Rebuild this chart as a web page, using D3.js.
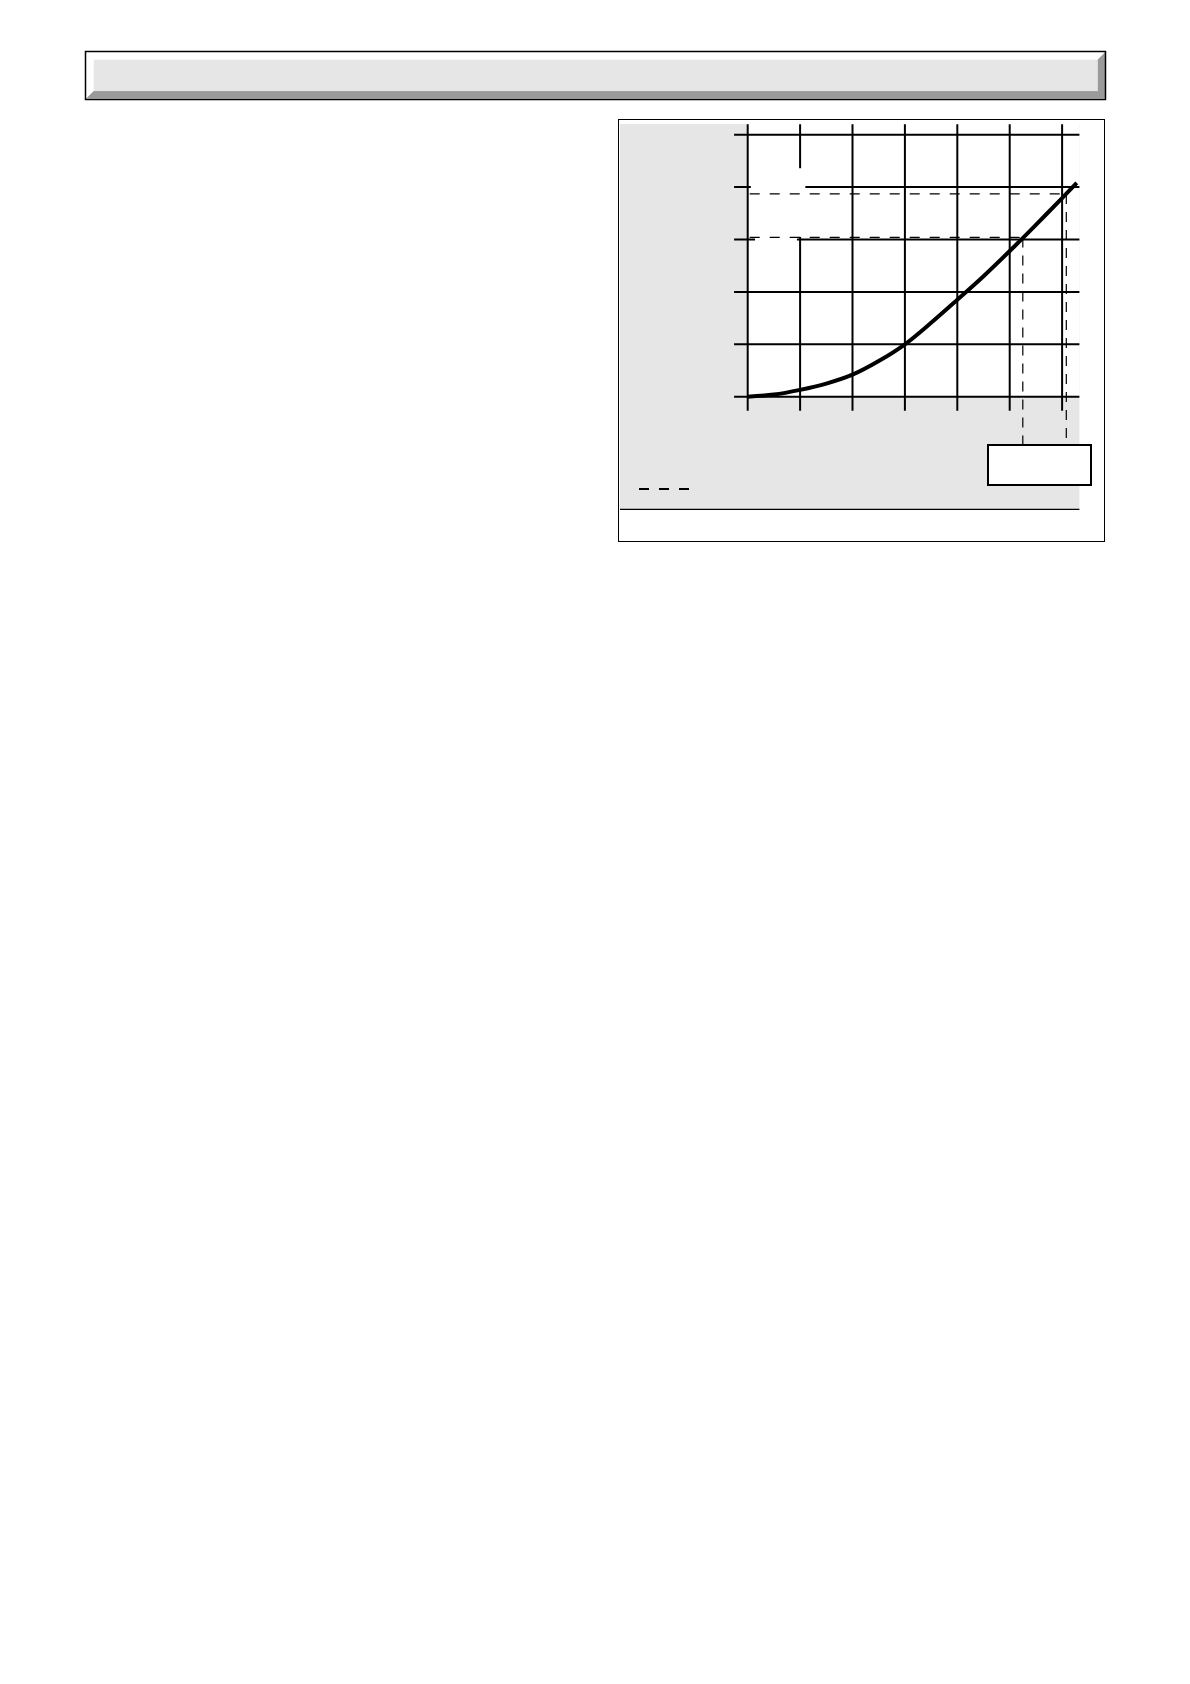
<!DOCTYPE html>
<html>
<head>
<meta charset="utf-8">
<script src="https://cdn.jsdelivr.net/npm/d3@7"></script>
<style>
  body { margin: 0; background: #fff; }
  svg { display: block; }
</style>
</head>
<body>
<div id="page"></div>
<script>
// grid positions in chart units (7 vertical lines, 6 horizontal lines)
const xTicks = [0, 1, 2, 3, 4, 5, 6];
const yTicks = [0, 1, 2, 3, 4, 5];
// curve
const curveX = [0, 0.5, 1, 1.5, 2, 2.5, 3, 3.5, 4, 4.5, 5, 5.5, 6, 6.28];
const curveY = [0, 0.04, 0.13, 0.25, 0.42, 0.68, 1.0, 1.41, 1.85, 2.30, 2.78, 3.28, 3.79, 4.08];
// dashed read-off guides (x value, y value)
const guideX = [5.25, 6.08];
const guideY = [3.04, 3.87];

const W = 1190, H = 1684;
const svg = d3.select('#page').append('svg')
    .attr('width', W)
    .attr('height', H);

// ---- title bar with bevel ----
const tb = { l: 86.2, t: 52.2, r: 1105, b: 98.6, bev: 7.5 };
svg.append('polygon')
    .attr('points', [[tb.l, tb.t], [tb.r, tb.t], [tb.r - tb.bev, tb.t + tb.bev], [tb.l + tb.bev, tb.t + tb.bev], [tb.l + tb.bev, tb.b - tb.bev], [tb.l, tb.b]].join(' '))
    .attr('fill', '#fff');
svg.append('polygon')
    .attr('points', [[tb.r, tb.t], [tb.r, tb.b], [tb.l, tb.b], [tb.l + tb.bev, tb.b - tb.bev], [tb.r - tb.bev, tb.b - tb.bev], [tb.r - tb.bev, tb.t + tb.bev]].join(' '))
    .attr('fill', '#9a9a9a');
svg.append('rect')
    .attr('x', tb.l + tb.bev).attr('y', tb.t + tb.bev)
    .attr('width', tb.r - tb.l - 2 * tb.bev).attr('height', tb.b - tb.t - 2 * tb.bev)
    .attr('fill', '#e6e6e6');
svg.append('rect')
    .attr('x', 85.5).attr('y', 51.5)
    .attr('width', 1020).attr('height', 48)
    .attr('fill', 'none').attr('stroke', '#000').attr('stroke-width', 1.5);

// ---- chart frame ----
svg.append('rect')
    .attr('x', 618.5).attr('y', 119.5)
    .attr('width', 486).attr('height', 422)
    .attr('fill', '#fff').attr('stroke', '#000').attr('stroke-width', 1);

const x = d3.scaleLinear().domain([0, 6.33]).range([747.7, 1079.4]);
const y = d3.scaleLinear().domain([0, 5]).range([396.7, 134.7]);

// grey panel, white plot area
svg.append('rect')
    .attr('x', 620).attr('y', 124)
    .attr('width', x(6.33) - 620).attr('height', 509.3 - 124)
    .attr('fill', '#e6e6e6');
svg.append('rect')
    .attr('x', x(0)).attr('y', 124)
    .attr('width', x(6.33) - x(0)).attr('height', y(0) - 124)
    .attr('fill', '#fff');
svg.append('line')
    .attr('x1', 620).attr('x2', x(6.33))
    .attr('y1', 509.3).attr('y2', 509.3)
    .attr('stroke', '#000').attr('stroke-width', 1.3);

// grid
svg.selectAll('line.vgrid')
    .data(xTicks)
    .enter()
    .append('line')
    .attr('class', 'vgrid')
    .attr('x1', d => x(d)).attr('x2', d => x(d))
    .attr('y1', y(5.2)).attr('y2', y(-0.27))
    .attr('stroke', '#000').attr('stroke-width', 2);
svg.selectAll('line.hgrid')
    .data(yTicks)
    .enter()
    .append('line')
    .attr('class', 'hgrid')
    .attr('x1', x(-0.26)).attr('x2', x(6.33))
    .attr('y1', d => y(d)).attr('y2', d => y(d))
    .attr('stroke', '#000').attr('stroke-width', 2);

// white label backgrounds cutting the grid
const masks = [
    { x0: 0.06, x1: 1.10, y0: 4.36, y1: 3.05 },
    { x0: 0.14, x1: 0.94, y0: 3.03, y1: 2.92 }
];
svg.selectAll('rect.mask')
    .data(masks)
    .enter()
    .append('rect')
    .attr('class', 'mask')
    .attr('x', d => x(d.x0)).attr('y', d => y(d.y0))
    .attr('width', d => x(d.x1) - x(d.x0)).attr('height', d => y(d.y1) - y(d.y0))
    .attr('fill', '#fff');

// dashed guides down to the value box
const boxTop = 444.3;
svg.selectAll('line.hguide')
    .data(guideX)
    .enter()
    .append('line')
    .attr('class', 'hguide')
    .attr('x1', x(0) + 2).attr('x2', d => x(d))
    .attr('y1', (d, i) => y(guideY[i])).attr('y2', (d, i) => y(guideY[i]))
    .attr('stroke', '#000').attr('stroke-width', 1.2)
    .attr('stroke-dasharray', '10,10');
svg.selectAll('line.vguide')
    .data(guideX)
    .enter()
    .append('line')
    .attr('class', 'vguide')
    .attr('x1', d => x(d)).attr('x2', d => x(d))
    .attr('y1', (d, i) => y(guideY[i])).attr('y2', boxTop)
    .attr('stroke', '#000').attr('stroke-width', 1.2)
    .attr('stroke-dasharray', '10,8');

// curve
const pts = curveX.map((v, i) => [v, curveY[i]]);
svg.append('path')
    .datum(pts)
    .attr('d', d3.line().x(d => x(d[0])).y(d => y(d[1])).curve(d3.curveCatmullRom))
    .attr('fill', 'none')
    .attr('stroke', '#000')
    .attr('stroke-width', 4);

// value box
svg.append('rect')
    .attr('x', 988).attr('y', boxTop + 0.7)
    .attr('width', 103).attr('height', 40)
    .attr('fill', '#fff').attr('stroke', '#000').attr('stroke-width', 2);

// legend sample
svg.append('line')
    .attr('x1', 639).attr('x2', 689)
    .attr('y1', 489).attr('y2', 489)
    .attr('stroke', '#000').attr('stroke-width', 2.2)
    .attr('stroke-dasharray', '10,10');
</script>
</body>
</html>
